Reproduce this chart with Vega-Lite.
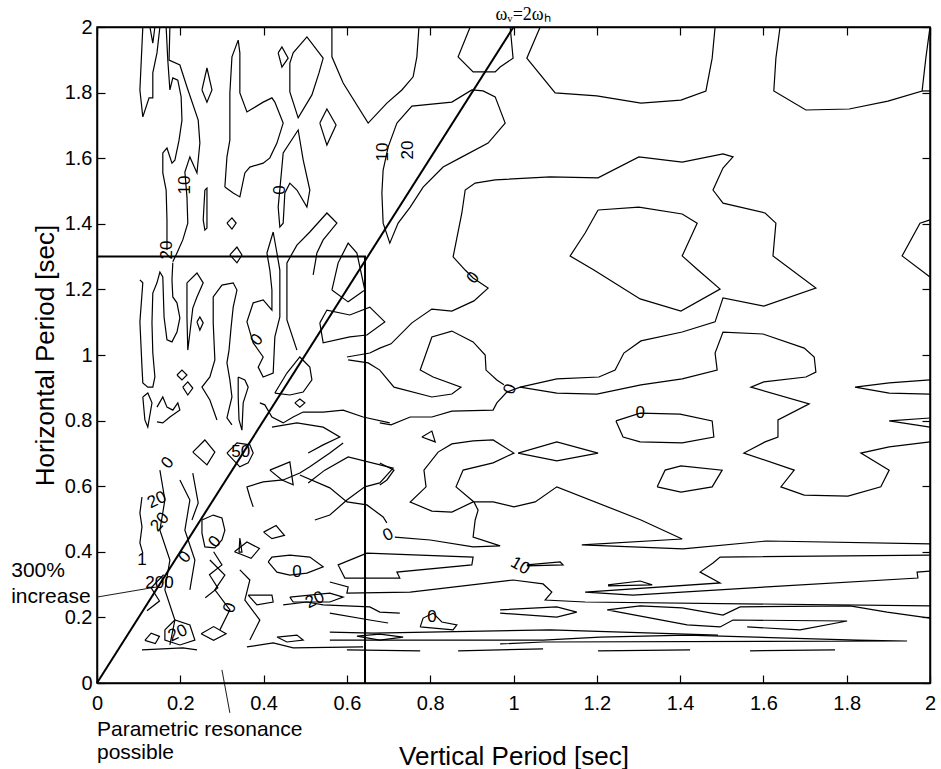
{
"$schema":"https://vega.github.io/schema/vega-lite/v6.json",
"width":833,"height":656,
"autosize":{"type":"none"},
"padding":{"left":97,"top":27,"right":11,"bottom":86},
"background":"white",
"config":{"view":{"stroke":"black","strokeWidth":1.5},"font":"Liberation Sans",
 "text":{"color":"black"},
 "axis":{"grid":false,"domainColor":"black","domainWidth":1.5,"tickColor":"black","tickWidth":1.2,"tickSize":-8,"labelColor":"black","titleColor":"black","labelFont":"Liberation Sans","titleFont":"Liberation Sans","labelFontSize":20,"titleFontSize":26,"titleFontWeight":"normal","labelFlush":false,"labelOverlap":false}},
"datasets":{
"ct":[
{"c":1,"x":1.064,"y":2},{"c":1,"x":1.032,"y":1.905},{"c":1,"x":1.1,"y":1.799},{"c":1,"x":1.2,"y":1.79},{"c":1,"x":1.306,"y":1.768},{"c":1,"x":1.402,"y":1.777},{"c":1,"x":1.462,"y":1.805},{"c":1,"x":1.477,"y":1.905},{"c":1,"x":1.484,"y":2},
{"c":2,"x":1.64,"y":2},{"c":2,"x":1.63,"y":1.905},{"c":2,"x":1.625,"y":1.805},{"c":2,"x":1.702,"y":1.747},{"c":2,"x":1.806,"y":1.75},{"c":2,"x":1.899,"y":1.774},{"c":2,"x":1.981,"y":1.805},{"c":2,"x":1.99,"y":1.905},{"c":2,"x":2,"y":2},
{"c":3,"x":1.981,"y":1.805},{"c":3,"x":2,"y":1.805},
{"c":4,"x":0.6,"y":0.994},{"c":4,"x":0.655,"y":1.006},{"c":4,"x":0.679,"y":1.021},{"c":4,"x":0.706,"y":1.034},{"c":4,"x":0.756,"y":1.098},{"c":4,"x":0.804,"y":1.14},{"c":4,"x":0.852,"y":1.134},{"c":4,"x":0.905,"y":1.165},{"c":4,"x":0.939,"y":1.204},{"c":4,"x":0.903,"y":1.235},{"c":4,"x":0.884,"y":1.259},{"c":4,"x":0.855,"y":1.299},{"c":4,"x":0.876,"y":1.433},{"c":4,"x":0.884,"y":1.503},{"c":4,"x":0.908,"y":1.524},{"c":4,"x":0.956,"y":1.534},{"c":4,"x":1.088,"y":1.543},{"c":4,"x":1.203,"y":1.54},{"c":4,"x":1.301,"y":1.604},{"c":4,"x":1.405,"y":1.588},{"c":4,"x":1.503,"y":1.613},{"c":4,"x":1.527,"y":1.604},{"c":4,"x":1.503,"y":1.57},{"c":4,"x":1.479,"y":1.503},{"c":4,"x":1.503,"y":1.463},{"c":4,"x":1.604,"y":1.433},{"c":4,"x":1.63,"y":1.402},{"c":4,"x":1.623,"y":1.302},{"c":4,"x":1.726,"y":1.204},{"c":4,"x":1.601,"y":1.149},{"c":4,"x":1.503,"y":1.174},{"c":4,"x":1.484,"y":1.101},{"c":4,"x":1.405,"y":1.07},{"c":4,"x":1.306,"y":1.043},{"c":4,"x":1.265,"y":1.006},{"c":4,"x":1.244,"y":0.954},{"c":4,"x":1.205,"y":0.933},{"c":4,"x":1.104,"y":0.927},{"c":4,"x":1.016,"y":0.902},
{"c":5,"x":0.679,"y":0.793},{"c":5,"x":0.706,"y":0.787},{"c":5,"x":0.752,"y":0.811},{"c":5,"x":0.804,"y":0.811},{"c":5,"x":0.852,"y":0.829},{"c":5,"x":0.951,"y":0.832},{"c":5,"x":0.96,"y":0.854},{"c":5,"x":0.984,"y":0.887},{"c":5,"x":1.016,"y":0.902},{"c":5,"x":1.104,"y":0.884},{"c":5,"x":1.2,"y":0.881},{"c":5,"x":1.306,"y":0.909},{"c":5,"x":1.405,"y":0.927},{"c":5,"x":1.489,"y":0.954},{"c":5,"x":1.484,"y":1.006},{"c":5,"x":1.503,"y":1.07},{"c":5,"x":1.599,"y":1.064},{"c":5,"x":1.698,"y":1.021},{"c":5,"x":1.722,"y":0.994},{"c":5,"x":1.726,"y":0.948},{"c":5,"x":1.702,"y":0.933},{"c":5,"x":1.601,"y":0.918},{"c":5,"x":1.57,"y":0.902},{"c":5,"x":1.71,"y":0.851},{"c":5,"x":1.635,"y":0.802},{"c":5,"x":1.635,"y":0.75},{"c":5,"x":1.604,"y":0.735},{"c":5,"x":1.553,"y":0.701},{"c":5,"x":1.674,"y":0.649},{"c":5,"x":1.642,"y":0.598},{"c":5,"x":1.698,"y":0.573},{"c":5,"x":1.803,"y":0.57},{"c":5,"x":1.882,"y":0.598},{"c":5,"x":1.902,"y":0.649},{"c":5,"x":1.834,"y":0.701},{"c":5,"x":1.902,"y":0.72},{"c":5,"x":2,"y":0.735},
{"c":6,"x":2,"y":1.412},{"c":6,"x":1.976,"y":1.402},{"c":6,"x":1.933,"y":1.302},{"c":6,"x":2,"y":1.238},
{"c":7,"x":1.203,"y":1.442},{"c":7,"x":1.301,"y":1.451},{"c":7,"x":1.405,"y":1.43},{"c":7,"x":1.441,"y":1.402},{"c":7,"x":1.405,"y":1.302},{"c":7,"x":1.443,"y":1.259},{"c":7,"x":1.496,"y":1.201},{"c":7,"x":1.402,"y":1.134},{"c":7,"x":1.304,"y":1.171},{"c":7,"x":1.193,"y":1.259},{"c":7,"x":1.136,"y":1.302},{"c":7,"x":1.172,"y":1.372},{"c":7,"x":1.203,"y":1.442},
{"c":8,"x":2,"y":0.881},{"c":8,"x":1.902,"y":0.884},{"c":8,"x":1.82,"y":0.902},{"c":8,"x":1.902,"y":0.915},{"c":8,"x":2,"y":0.924},
{"c":9,"x":2,"y":0.78},{"c":9,"x":1.902,"y":0.799},{"c":9,"x":2,"y":0.808},
{"c":10,"x":1.246,"y":0.799},{"c":10,"x":1.304,"y":0.823},{"c":10,"x":1.4,"y":0.82},{"c":10,"x":1.477,"y":0.799},{"c":10,"x":1.481,"y":0.75},{"c":10,"x":1.405,"y":0.732},{"c":10,"x":1.304,"y":0.735},{"c":10,"x":1.263,"y":0.75},{"c":10,"x":1.246,"y":0.799},
{"c":11,"x":1.345,"y":0.598},{"c":11,"x":1.364,"y":0.649},{"c":11,"x":1.402,"y":0.662},{"c":11,"x":1.501,"y":0.649},{"c":11,"x":1.477,"y":0.598},{"c":11,"x":1.402,"y":0.582},{"c":11,"x":1.345,"y":0.598},
{"c":12,"x":1.011,"y":0.701},{"c":12,"x":1.104,"y":0.735},{"c":12,"x":1.203,"y":0.701},{"c":12,"x":1.104,"y":0.677},{"c":12,"x":1.011,"y":0.701},
{"c":13,"x":0.78,"y":0.75},{"c":13,"x":0.804,"y":0.768},{"c":13,"x":0.812,"y":0.735},{"c":13,"x":0.78,"y":0.75},
{"c":14,"x":0.603,"y":0.985},{"c":14,"x":0.651,"y":0.976},{"c":14,"x":0.679,"y":0.954},{"c":14,"x":0.713,"y":0.902},{"c":14,"x":0.804,"y":0.872},{"c":14,"x":0.852,"y":0.881},{"c":14,"x":0.874,"y":0.902},{"c":14,"x":0.807,"y":0.933},{"c":14,"x":0.776,"y":0.954},{"c":14,"x":0.804,"y":1.055},{"c":14,"x":0.852,"y":1.073},{"c":14,"x":0.903,"y":1.04},{"c":14,"x":0.932,"y":1.0},{"c":14,"x":0.934,"y":0.954},{"c":14,"x":0.96,"y":0.924},{"c":14,"x":0.977,"y":0.909},
{"c":15,"x":0.679,"y":0.671},{"c":15,"x":0.713,"y":0.649},{"c":15,"x":0.696,"y":0.619},{"c":15,"x":0.679,"y":0.604},
{"c":16,"x":2,"y":0.424},{"c":16,"x":1.609,"y":0.433},{"c":16,"x":1.407,"y":0.409},{"c":16,"x":1.164,"y":0.421},{"c":16,"x":1.405,"y":0.439},{"c":16,"x":1.306,"y":0.497},{"c":16,"x":1.104,"y":0.598},{"c":16,"x":1.052,"y":0.552},{"c":16,"x":1.001,"y":0.537},{"c":16,"x":0.951,"y":0.552},{"c":16,"x":0.903,"y":0.552},{"c":16,"x":0.852,"y":0.521},{"c":16,"x":0.804,"y":0.524},{"c":16,"x":0.752,"y":0.552},{"c":16,"x":0.79,"y":0.598},{"c":16,"x":0.785,"y":0.649},{"c":16,"x":0.819,"y":0.704},{"c":16,"x":0.852,"y":0.729},{"c":16,"x":0.903,"y":0.738},{"c":16,"x":0.951,"y":0.741},{"c":16,"x":1.001,"y":0.701},{"c":16,"x":0.951,"y":0.671},{"c":16,"x":0.879,"y":0.649},{"c":16,"x":0.862,"y":0.598},{"c":16,"x":0.905,"y":0.552},{"c":16,"x":0.915,"y":0.527},{"c":16,"x":0.908,"y":0.497},{"c":16,"x":0.903,"y":0.445},{"c":16,"x":0.968,"y":0.418},{"c":16,"x":0.903,"y":0.415},{"c":16,"x":0.8,"y":0.436},{"c":16,"x":0.715,"y":0.445},
{"c":17,"x":0.487,"y":0.634},{"c":17,"x":0.559,"y":0.595},{"c":17,"x":0.6,"y":0.552},{"c":17,"x":0.648,"y":0.543},{"c":17,"x":0.687,"y":0.506},{"c":17,"x":0.696,"y":0.488},
{"c":18,"x":0.507,"y":0.61},{"c":18,"x":0.547,"y":0.649},{"c":18,"x":0.603,"y":0.689},{"c":18,"x":0.711,"y":0.655},{"c":18,"x":0.679,"y":0.61},{"c":18,"x":0.643,"y":0.598},{"c":18,"x":0.6,"y":0.558},{"c":18,"x":0.559,"y":0.512},{"c":18,"x":0.523,"y":0.497},
{"c":19,"x":0.648,"y":0.396},{"c":19,"x":0.903,"y":0.384},{"c":19,"x":0.9,"y":0.36},{"c":19,"x":0.72,"y":0.338},{"c":19,"x":0.727,"y":0.32},{"c":19,"x":0.595,"y":0.32},{"c":19,"x":0.579,"y":0.36},{"c":19,"x":0.648,"y":0.396},
{"c":20,"x":0.559,"y":0.308},{"c":20,"x":0.603,"y":0.293},{"c":20,"x":0.6,"y":0.274},{"c":20,"x":0.752,"y":0.277},{"c":20,"x":0.999,"y":0.314},{"c":20,"x":1.071,"y":0.302},{"c":20,"x":1.092,"y":0.277},{"c":20,"x":1.076,"y":0.253},{"c":20,"x":1.172,"y":0.247},{"c":20,"x":2,"y":0.235},
{"c":21,"x":2,"y":0.39},{"c":21,"x":1.496,"y":0.384},{"c":21,"x":1.479,"y":0.366},{"c":21,"x":1.448,"y":0.338},{"c":21,"x":1.496,"y":0.305},{"c":21,"x":1.172,"y":0.277},{"c":21,"x":1.287,"y":0.268},{"c":21,"x":1.609,"y":0.293},{"c":21,"x":1.971,"y":0.32},{"c":21,"x":1.969,"y":0.338},{"c":21,"x":2,"y":0.341},
{"c":22,"x":2,"y":0.198},{"c":22,"x":1.897,"y":0.216},{"c":22,"x":1.808,"y":0.235},{"c":22,"x":1.544,"y":0.232},{"c":22,"x":1.503,"y":0.207},{"c":22,"x":1.405,"y":0.229},{"c":22,"x":1.304,"y":0.235},{"c":22,"x":1.225,"y":0.223},{"c":22,"x":1.417,"y":0.177},{"c":22,"x":1.496,"y":0.171},{"c":22,"x":1.527,"y":0.192},{"c":22,"x":1.801,"y":0.189},{"c":22,"x":1.688,"y":0.162},{"c":22,"x":1.561,"y":0.171},
{"c":23,"x":0.968,"y":0.223},{"c":23,"x":1.104,"y":0.232},{"c":23,"x":1.152,"y":0.216},{"c":23,"x":1.104,"y":0.201},{"c":23,"x":0.968,"y":0.213},
{"c":24,"x":0.559,"y":0.155},{"c":24,"x":0.663,"y":0.152},{"c":24,"x":1.088,"y":0.162},{"c":24,"x":1.491,"y":0.146},
{"c":25,"x":0.968,"y":0.119},{"c":25,"x":1.071,"y":0.125},{"c":25,"x":1.945,"y":0.128},{"c":25,"x":1.825,"y":0.131},{"c":25,"x":1.417,"y":0.146},{"c":25,"x":1.208,"y":0.14},{"c":25,"x":1.071,"y":0.131},{"c":25,"x":0.759,"y":0.131},{"c":25,"x":0.559,"y":0.131},
{"c":26,"x":0.6,"y":0.101},{"c":26,"x":0.776,"y":0.098},
{"c":27,"x":0.867,"y":0.098},{"c":27,"x":1.071,"y":0.104},
{"c":28,"x":1.203,"y":0.098},{"c":28,"x":1.424,"y":0.101},
{"c":29,"x":1.568,"y":0.098},{"c":29,"x":1.772,"y":0.101},
{"c":30,"x":1.032,"y":0.36},{"c":30,"x":1.112,"y":0.369},{"c":30,"x":1.119,"y":0.36},{"c":30,"x":1.032,"y":0.357},
{"c":31,"x":1.227,"y":0.299},{"c":31,"x":1.304,"y":0.311},{"c":31,"x":1.333,"y":0.299},{"c":31,"x":1.227,"y":0.296},
{"c":32,"x":0.559,"y":0.213},{"c":32,"x":0.655,"y":0.192},{"c":32,"x":0.699,"y":0.183},
{"c":33,"x":0.776,"y":0.171},{"c":33,"x":0.783,"y":0.198},{"c":33,"x":0.807,"y":0.213},{"c":33,"x":0.828,"y":0.186},{"c":33,"x":0.864,"y":0.177},{"c":33,"x":0.855,"y":0.162},{"c":33,"x":0.776,"y":0.171},
{"c":34,"x":0.624,"y":0.143},{"c":34,"x":0.679,"y":0.149},{"c":34,"x":0.735,"y":0.14},{"c":34,"x":0.679,"y":0.131},{"c":34,"x":0.624,"y":0.143},
{"c":35,"x":0.252,"y":0.497},{"c":35,"x":0.279,"y":0.512},{"c":35,"x":0.3,"y":0.503},{"c":35,"x":0.307,"y":0.466},{"c":35,"x":0.3,"y":0.436},{"c":35,"x":0.283,"y":0.412},{"c":35,"x":0.259,"y":0.415},{"c":35,"x":0.252,"y":0.457},{"c":35,"x":0.252,"y":0.497},
{"c":36,"x":0.411,"y":0.369},{"c":36,"x":0.42,"y":0.384},{"c":36,"x":0.463,"y":0.39},{"c":36,"x":0.511,"y":0.384},{"c":36,"x":0.543,"y":0.354},{"c":36,"x":0.504,"y":0.335},{"c":36,"x":0.463,"y":0.329},{"c":36,"x":0.432,"y":0.338},{"c":36,"x":0.411,"y":0.369},
{"c":37,"x":0.463,"y":0.262},{"c":37,"x":0.559,"y":0.274},{"c":37,"x":0.591,"y":0.262},{"c":37,"x":0.559,"y":0.247},{"c":37,"x":0.471,"y":0.247},{"c":37,"x":0.463,"y":0.262},
{"c":38,"x":0.363,"y":0.268},{"c":38,"x":0.42,"y":0.268},{"c":38,"x":0.423,"y":0.247},{"c":38,"x":0.384,"y":0.238},{"c":38,"x":0.363,"y":0.268},
{"c":39,"x":0.447,"y":0.238},{"c":39,"x":0.504,"y":0.247},{"c":39,"x":0.543,"y":0.238},{"c":39,"x":0.655,"y":0.232},{"c":39,"x":0.679,"y":0.216},{"c":39,"x":0.727,"y":0.213},
{"c":40,"x":0.432,"y":0.14},{"c":40,"x":0.48,"y":0.146},{"c":40,"x":0.495,"y":0.131},{"c":40,"x":0.456,"y":0.125},{"c":40,"x":0.432,"y":0.14},
{"c":41,"x":0.36,"y":0.11},{"c":41,"x":0.423,"y":0.122},{"c":41,"x":0.471,"y":0.107},{"c":41,"x":0.639,"y":0.11},
{"c":42,"x":0.108,"y":0.101},{"c":42,"x":0.206,"y":0.107},{"c":42,"x":0.24,"y":0.101},
{"c":43,"x":0.415,"y":0.649},{"c":43,"x":0.463,"y":0.674},{"c":43,"x":0.471,"y":0.604},{"c":43,"x":0.444,"y":0.619},{"c":43,"x":0.415,"y":0.649},
{"c":44,"x":0.312,"y":0.701},{"c":44,"x":0.336,"y":0.732},{"c":44,"x":0.367,"y":0.726},{"c":44,"x":0.375,"y":0.701},{"c":44,"x":0.363,"y":0.671},{"c":44,"x":0.343,"y":0.659},{"c":44,"x":0.312,"y":0.701},
{"c":45,"x":0.23,"y":0.704},{"c":45,"x":0.259,"y":0.741},{"c":45,"x":0.283,"y":0.704},{"c":45,"x":0.264,"y":0.665},{"c":45,"x":0.23,"y":0.704},
{"c":46,"x":0.343,"y":0.442},{"c":46,"x":0.348,"y":0.399},{"c":46,"x":0.341,"y":0.399},{"c":46,"x":0.343,"y":0.442},
{"c":47,"x":0.108,"y":0.567},{"c":47,"x":0.103,"y":0.518},{"c":47,"x":0.108,"y":0.476},{"c":47,"x":0.103,"y":0.427},{"c":47,"x":0.11,"y":0.396},
{"c":48,"x":0.144,"y":0.841},{"c":48,"x":0.158,"y":0.872},{"c":48,"x":0.168,"y":0.841},{"c":48,"x":0.182,"y":0.832},{"c":48,"x":0.194,"y":0.854},{"c":48,"x":0.199,"y":0.832},{"c":48,"x":0.175,"y":0.811},{"c":48,"x":0.158,"y":0.793},{"c":48,"x":0.144,"y":0.796},
{"c":49,"x":0.11,"y":0.872},{"c":49,"x":0.122,"y":0.884},{"c":49,"x":0.132,"y":0.854},{"c":49,"x":0.122,"y":0.78},{"c":49,"x":0.115,"y":0.802},{"c":49,"x":0.11,"y":0.872},
{"c":50,"x":0.151,"y":0.649},{"c":50,"x":0.163,"y":0.558},{"c":50,"x":0.151,"y":0.466},{"c":50,"x":0.175,"y":0.375},{"c":50,"x":0.163,"y":0.284},{"c":50,"x":0.187,"y":0.192},{"c":50,"x":0.175,"y":0.116},
{"c":51,"x":0.199,"y":0.619},{"c":51,"x":0.223,"y":0.558},{"c":51,"x":0.211,"y":0.466},{"c":51,"x":0.235,"y":0.375},{"c":51,"x":0.223,"y":0.284},
{"c":52,"x":0.271,"y":0.375},{"c":52,"x":0.307,"y":0.329},{"c":52,"x":0.283,"y":0.284},{"c":52,"x":0.319,"y":0.223},{"c":52,"x":0.295,"y":0.162},
{"c":53,"x":0.343,"y":0.345},{"c":53,"x":0.367,"y":0.314},{"c":53,"x":0.355,"y":0.253},{"c":53,"x":0.391,"y":0.192},{"c":53,"x":0.367,"y":0.131},
{"c":54,"x":0.163,"y":0.162},{"c":54,"x":0.187,"y":0.192},{"c":54,"x":0.223,"y":0.177},{"c":54,"x":0.235,"y":0.131},{"c":54,"x":0.199,"y":0.116},{"c":54,"x":0.163,"y":0.131},{"c":54,"x":0.163,"y":0.162},
{"c":55,"x":0.42,"y":0.78},{"c":55,"x":0.48,"y":0.793},{"c":55,"x":0.543,"y":0.78},{"c":55,"x":0.583,"y":0.75},{"c":55,"x":0.543,"y":0.726},{"c":55,"x":0.507,"y":0.701},
{"c":56,"x":0.375,"y":0.537},{"c":56,"x":0.367,"y":0.567},{"c":56,"x":0.36,"y":0.598},{"c":56,"x":0.399,"y":0.613},{"c":56,"x":0.447,"y":0.619},{"c":56,"x":0.487,"y":0.64},{"c":56,"x":0.511,"y":0.659},{"c":56,"x":0.559,"y":0.701},{"c":56,"x":0.591,"y":0.732},
{"c":57,"x":0.23,"y":0.64},{"c":57,"x":0.243,"y":0.549},{"c":57,"x":0.228,"y":0.497},
{"c":58,"x":0.103,"y":1.229},{"c":58,"x":0.11,"y":1.22},{"c":58,"x":0.103,"y":1.101},{"c":58,"x":0.108,"y":0.963},{"c":58,"x":0.11,"y":0.915},{"c":58,"x":0.122,"y":0.902},{"c":58,"x":0.134,"y":0.902},{"c":58,"x":0.139,"y":0.933},{"c":58,"x":0.134,"y":1.006},{"c":58,"x":0.132,"y":1.098},{"c":58,"x":0.134,"y":1.189},{"c":58,"x":0.144,"y":1.22},{"c":58,"x":0.151,"y":1.253},{"c":58,"x":0.158,"y":1.238},{"c":58,"x":0.161,"y":1.116},{"c":58,"x":0.168,"y":1.046},{"c":58,"x":0.18,"y":1.04},{"c":58,"x":0.192,"y":1.07},{"c":58,"x":0.199,"y":1.113},{"c":58,"x":0.192,"y":1.159},{"c":58,"x":0.182,"y":1.177},{"c":58,"x":0.18,"y":1.229},{"c":58,"x":0.182,"y":1.281},
{"c":59,"x":0.216,"y":1.22},{"c":59,"x":0.24,"y":1.25},{"c":59,"x":0.255,"y":1.22},{"c":59,"x":0.24,"y":1.177},{"c":59,"x":0.23,"y":1.143},{"c":59,"x":0.223,"y":1.067},{"c":59,"x":0.218,"y":1.015},{"c":59,"x":0.216,"y":1.116},{"c":59,"x":0.216,"y":1.22},
{"c":60,"x":0.24,"y":1.101},{"c":60,"x":0.247,"y":1.116},{"c":60,"x":0.255,"y":1.098},{"c":60,"x":0.247,"y":1.076},{"c":60,"x":0.24,"y":1.101},
{"c":61,"x":0.192,"y":0.939},{"c":61,"x":0.204,"y":0.954},{"c":61,"x":0.216,"y":0.939},{"c":61,"x":0.204,"y":0.924},{"c":61,"x":0.192,"y":0.939},
{"c":62,"x":0.206,"y":0.902},{"c":62,"x":0.218,"y":0.918},{"c":62,"x":0.23,"y":0.899},{"c":62,"x":0.218,"y":0.878},{"c":62,"x":0.206,"y":0.902},
{"c":63,"x":0.288,"y":0.802},{"c":63,"x":0.271,"y":0.863},{"c":63,"x":0.252,"y":0.902},{"c":63,"x":0.271,"y":0.933},{"c":63,"x":0.283,"y":0.985},{"c":63,"x":0.279,"y":1.098},{"c":63,"x":0.279,"y":1.177},{"c":63,"x":0.3,"y":1.213},{"c":63,"x":0.327,"y":1.22},{"c":63,"x":0.336,"y":1.198},{"c":63,"x":0.327,"y":1.146},{"c":63,"x":0.322,"y":1.085},{"c":63,"x":0.317,"y":1.015},{"c":63,"x":0.312,"y":0.976},{"c":63,"x":0.319,"y":0.924},{"c":63,"x":0.324,"y":0.872},{"c":63,"x":0.312,"y":0.808},{"c":63,"x":0.324,"y":0.787},
{"c":64,"x":0.339,"y":0.933},{"c":64,"x":0.355,"y":0.924},{"c":64,"x":0.363,"y":0.902},{"c":64,"x":0.351,"y":0.854},{"c":64,"x":0.348,"y":0.771},{"c":64,"x":0.341,"y":0.802},{"c":64,"x":0.339,"y":0.872},{"c":64,"x":0.339,"y":0.933},
{"c":65,"x":0.423,"y":1.375},{"c":65,"x":0.408,"y":1.311},{"c":65,"x":0.415,"y":1.259},{"c":65,"x":0.42,"y":1.198},{"c":65,"x":0.42,"y":1.137},{"c":65,"x":0.399,"y":1.168},{"c":65,"x":0.375,"y":1.159},{"c":65,"x":0.36,"y":1.101},{"c":65,"x":0.375,"y":1.037},{"c":65,"x":0.399,"y":0.994},{"c":65,"x":0.387,"y":0.963},{"c":65,"x":0.399,"y":0.933},{"c":65,"x":0.423,"y":0.945},{"c":65,"x":0.427,"y":1.055},{"c":65,"x":0.439,"y":1.116},{"c":65,"x":0.439,"y":1.259},{"c":65,"x":0.432,"y":1.311},{"c":65,"x":0.423,"y":1.375},
{"c":66,"x":0.48,"y":1.015},{"c":66,"x":0.456,"y":1.107},{"c":66,"x":0.456,"y":1.281},{"c":66,"x":0.48,"y":1.335},{"c":66,"x":0.511,"y":1.375},{"c":66,"x":0.552,"y":1.433},{"c":66,"x":0.576,"y":1.402},{"c":66,"x":0.543,"y":1.351},{"c":66,"x":0.528,"y":1.311},{"c":66,"x":0.519,"y":1.244},
{"c":67,"x":0.564,"y":1.198},{"c":67,"x":0.579,"y":1.281},{"c":67,"x":0.603,"y":1.341},{"c":67,"x":0.624,"y":1.311},{"c":67,"x":0.643,"y":1.198},{"c":67,"x":0.603,"y":1.162},{"c":67,"x":0.564,"y":1.198},
{"c":68,"x":0.535,"y":1.098},{"c":68,"x":0.552,"y":1.137},{"c":68,"x":0.607,"y":1.122},{"c":68,"x":0.655,"y":1.146},{"c":68,"x":0.691,"y":1.101},{"c":68,"x":0.648,"y":1.061},{"c":68,"x":0.607,"y":1.055},{"c":68,"x":0.543,"y":1.037},{"c":68,"x":0.535,"y":1.098},
{"c":69,"x":0.427,"y":0.884},{"c":69,"x":0.456,"y":0.945},{"c":69,"x":0.487,"y":0.994},{"c":69,"x":0.511,"y":0.963},{"c":69,"x":0.516,"y":0.924},{"c":69,"x":0.495,"y":0.887},{"c":69,"x":0.463,"y":0.878},{"c":69,"x":0.427,"y":0.884},
{"c":70,"x":0.475,"y":0.854},{"c":70,"x":0.487,"y":0.866},{"c":70,"x":0.499,"y":0.854},{"c":70,"x":0.487,"y":0.841},{"c":70,"x":0.475,"y":0.854},
{"c":71,"x":0.319,"y":1.305},{"c":71,"x":0.336,"y":1.329},{"c":71,"x":0.348,"y":1.305},{"c":71,"x":0.336,"y":1.281},{"c":71,"x":0.319,"y":1.305},
{"c":72,"x":0.391,"y":0.854},{"c":72,"x":0.403,"y":0.848},{"c":72,"x":0.42,"y":0.811},{"c":72,"x":0.447,"y":0.793},{"c":72,"x":0.471,"y":0.811},{"c":72,"x":0.495,"y":0.826},{"c":72,"x":0.543,"y":0.826},{"c":72,"x":0.591,"y":0.832},{"c":72,"x":0.639,"y":0.811},{"c":72,"x":0.703,"y":0.793},
{"c":73,"x":0.11,"y":2},{"c":73,"x":0.103,"y":1.808},{"c":73,"x":0.11,"y":1.726},{"c":73,"x":0.125,"y":1.784},{"c":73,"x":0.134,"y":1.784},{"c":73,"x":0.134,"y":1.86},{"c":73,"x":0.144,"y":1.921},{"c":73,"x":0.151,"y":2},
{"c":74,"x":0.127,"y":2},{"c":74,"x":0.134,"y":1.951},{"c":74,"x":0.139,"y":2},
{"c":75,"x":0.166,"y":2},{"c":75,"x":0.17,"y":1.899},{"c":75,"x":0.175,"y":1.808},{"c":75,"x":0.182,"y":1.845},{"c":75,"x":0.194,"y":1.838},{"c":75,"x":0.202,"y":1.787},{"c":75,"x":0.204,"y":1.716},{"c":75,"x":0.197,"y":1.655},{"c":75,"x":0.187,"y":1.594},{"c":75,"x":0.18,"y":1.585},{"c":75,"x":0.168,"y":1.631},{"c":75,"x":0.158,"y":1.616},{"c":75,"x":0.158,"y":1.555},{"c":75,"x":0.166,"y":1.503},{"c":75,"x":0.168,"y":1.412},{"c":75,"x":0.168,"y":1.32},
{"c":76,"x":0.175,"y":2},{"c":76,"x":0.173,"y":1.899},{"c":76,"x":0.199,"y":1.884},{"c":76,"x":0.216,"y":1.817},{"c":76,"x":0.243,"y":1.716},{"c":76,"x":0.247,"y":1.646},{"c":76,"x":0.24,"y":1.555},{"c":76,"x":0.223,"y":1.604},{"c":76,"x":0.211,"y":1.558},{"c":76,"x":0.216,"y":1.482},{"c":76,"x":0.218,"y":1.402},{"c":76,"x":0.206,"y":1.351},{"c":76,"x":0.192,"y":1.311},{"c":76,"x":0.182,"y":1.284},
{"c":77,"x":0.252,"y":1.808},{"c":77,"x":0.264,"y":1.875},{"c":77,"x":0.276,"y":1.808},{"c":77,"x":0.264,"y":1.771},{"c":77,"x":0.252,"y":1.808},
{"c":78,"x":0.307,"y":1.512},{"c":78,"x":0.312,"y":1.604},{"c":78,"x":0.319,"y":1.655},{"c":78,"x":0.319,"y":1.799},{"c":78,"x":0.324,"y":1.909},{"c":78,"x":0.339,"y":1.96},{"c":78,"x":0.343,"y":1.921},{"c":78,"x":0.343,"y":1.799},{"c":78,"x":0.36,"y":1.741},{"c":78,"x":0.399,"y":1.771},{"c":78,"x":0.42,"y":1.784},{"c":78,"x":0.427,"y":1.771},{"c":78,"x":0.447,"y":1.707},{"c":78,"x":0.432,"y":1.646},{"c":78,"x":0.415,"y":1.601},{"c":78,"x":0.399,"y":1.585},{"c":78,"x":0.367,"y":1.573},{"c":78,"x":0.355,"y":1.555},{"c":78,"x":0.343,"y":1.482},{"c":78,"x":0.327,"y":1.494},{"c":78,"x":0.307,"y":1.512},
{"c":79,"x":0.259,"y":1.503},{"c":79,"x":0.264,"y":1.509},{"c":79,"x":0.264,"y":1.387},{"c":79,"x":0.259,"y":1.381},{"c":79,"x":0.255,"y":1.412},{"c":79,"x":0.259,"y":1.503},
{"c":80,"x":0.312,"y":1.402},{"c":80,"x":0.324,"y":1.418},{"c":80,"x":0.334,"y":1.402},{"c":80,"x":0.324,"y":1.384},{"c":80,"x":0.312,"y":1.402},
{"c":81,"x":0.435,"y":1.921},{"c":81,"x":0.444,"y":1.939},{"c":81,"x":0.459,"y":1.905},{"c":81,"x":0.444,"y":1.878},{"c":81,"x":0.435,"y":1.921},
{"c":82,"x":0.463,"y":1.89},{"c":82,"x":0.471,"y":1.921},{"c":82,"x":0.504,"y":1.97},{"c":82,"x":0.543,"y":1.905},{"c":82,"x":0.533,"y":1.86},{"c":82,"x":0.516,"y":1.793},{"c":82,"x":0.483,"y":1.723},{"c":82,"x":0.463,"y":1.802},{"c":82,"x":0.463,"y":1.89},
{"c":83,"x":0.444,"y":1.573},{"c":83,"x":0.447,"y":1.616},{"c":83,"x":0.483,"y":1.686},{"c":83,"x":0.495,"y":1.595},{"c":83,"x":0.511,"y":1.503},{"c":83,"x":0.504,"y":1.451},{"c":83,"x":0.48,"y":1.503},{"c":83,"x":0.463,"y":1.524},{"c":83,"x":0.451,"y":1.494},{"c":83,"x":0.447,"y":1.402},{"c":83,"x":0.439,"y":1.39},{"c":83,"x":0.435,"y":1.451},{"c":83,"x":0.444,"y":1.573},
{"c":84,"x":0.535,"y":1.707},{"c":84,"x":0.552,"y":1.75},{"c":84,"x":0.574,"y":1.701},{"c":84,"x":0.552,"y":1.64},{"c":84,"x":0.535,"y":1.707},
{"c":85,"x":0.564,"y":2},{"c":85,"x":0.564,"y":1.909},{"c":85,"x":0.591,"y":1.829},{"c":85,"x":0.651,"y":1.707},{"c":85,"x":0.696,"y":1.768},{"c":85,"x":0.732,"y":1.808},{"c":85,"x":0.759,"y":1.848},{"c":85,"x":0.768,"y":1.909},{"c":85,"x":0.773,"y":2},
{"c":86,"x":0.896,"y":2},{"c":86,"x":0.867,"y":1.909},{"c":86,"x":0.903,"y":1.863},{"c":86,"x":0.956,"y":1.863},{"c":86,"x":0.968,"y":1.878},{"c":86,"x":0.999,"y":1.905},{"c":86,"x":0.992,"y":2},
{"c":87,"x":0.72,"y":1.707},{"c":87,"x":0.756,"y":1.759},{"c":87,"x":0.852,"y":1.771},{"c":87,"x":0.9,"y":1.808},{"c":87,"x":0.927,"y":1.805},{"c":87,"x":0.956,"y":1.787},{"c":87,"x":0.98,"y":1.707},{"c":87,"x":0.939,"y":1.646},{"c":87,"x":0.872,"y":1.601},{"c":87,"x":0.831,"y":1.573},{"c":87,"x":0.783,"y":1.512},{"c":87,"x":0.752,"y":1.451},{"c":87,"x":0.723,"y":1.402},{"c":87,"x":0.703,"y":1.341},{"c":87,"x":0.687,"y":1.402},{"c":87,"x":0.684,"y":1.494},{"c":87,"x":0.687,"y":1.564},{"c":87,"x":0.699,"y":1.634},{"c":87,"x":0.72,"y":1.707},
{"c":88,"x":0.115,"y":0.13},{"c":88,"x":0.13,"y":0.152},{"c":88,"x":0.15,"y":0.142},{"c":88,"x":0.14,"y":0.12},{"c":88,"x":0.115,"y":0.13},
{"c":89,"x":0.25,"y":0.15},{"c":89,"x":0.28,"y":0.172},{"c":89,"x":0.31,"y":0.15},{"c":89,"x":0.28,"y":0.13},{"c":89,"x":0.25,"y":0.15},
{"c":90,"x":0.12,"y":0.22},{"c":90,"x":0.15,"y":0.25},{"c":90,"x":0.13,"y":0.29},{"c":90,"x":0.16,"y":0.33},
{"c":91,"x":0.26,"y":0.26},{"c":91,"x":0.29,"y":0.29},{"c":91,"x":0.27,"y":0.33},{"c":91,"x":0.3,"y":0.36},{"c":91,"x":0.28,"y":0.4},
{"c":92,"x":0.33,"y":0.4},{"c":92,"x":0.36,"y":0.43},{"c":92,"x":0.39,"y":0.41},{"c":92,"x":0.37,"y":0.38},{"c":92,"x":0.33,"y":0.4},
{"c":93,"x":0.4,"y":0.46},{"c":93,"x":0.43,"y":0.48},{"c":93,"x":0.45,"y":0.45},{"c":93,"x":0.42,"y":0.44},{"c":93,"x":0.4,"y":0.46}
],
"gd":[
{"g":"d","x":0,"y":0},{"g":"d","x":1,"y":2},
{"g":"b","x":0,"y":1.3},{"g":"b","x":0.6435,"y":1.3},{"g":"b","x":0.6435,"y":0}
],
"ptr":[
{"g":"p1","x":0,"y":0.262},{"g":"p1","x":0.144,"y":0.293},
{"g":"p2","x":0.3,"y":0.04},{"g":"p2","x":0.319,"y":-0.091}
],
"lab0":[
{"x":1.304,"y":0.823,"t":"0"},{"x":0.804,"y":0.201,"t":"0"},{"x":0.48,"y":0.338,"t":"0"},{"x":0.345,"y":0.704,"t":"50"},{"x":0.15,"y":0.305,"t":"200"},{"x":0.108,"y":0.375,"t":"1"}
],
"lab270":[
{"x":0.211,"y":1.518,"t":"10"},{"x":0.168,"y":1.32,"t":"20"},{"x":0.439,"y":1.503,"t":"0"},{"x":0.687,"y":1.619,"t":"10"},{"x":0.747,"y":1.625,"t":"20"}
],
"lab310":[
{"x":0.903,"y":1.235,"t":"0"},{"x":0.384,"y":1.046,"t":"0"},{"x":0.283,"y":0.43,"t":"0"},{"x":0.17,"y":0.671,"t":"0"},{"x":0.151,"y":0.491,"t":"20"},{"x":0.211,"y":0.384,"t":"0"}
],
"lab290":[
{"x":0.992,"y":0.896,"t":"0"},{"x":0.319,"y":0.229,"t":"0"}
],
"lab335":[
{"x":0.523,"y":0.253,"t":"20"},{"x":0.194,"y":0.152,"t":"20"},{"x":0.144,"y":0.558,"t":"20"},{"x":0.699,"y":0.451,"t":"0"}
],
"lab30":[
{"x":1.016,"y":0.357,"t":"10"}
],
"notes":[
{"x":-0.206,"y":0.323,"t":"300%"},{"x":-0.206,"y":0.244,"t":"increase"},{"x":0.0,"y":-0.162,"t":"Parametric resonance"},{"x":0.0,"y":-0.232,"t":"possible"}
],
"top":[
{"x":1.023,"y":2.021,"t":"ωᵥ=2ωₕ"}
]
},
"layer":[
{"data":{"name":"ct"},
 "mark":{"type":"line","stroke":"black","strokeWidth":1.2},
 "encoding":{
  "x":{"field":"x","type":"quantitative","scale":{"domain":[0,2],"nice":false,"zero":false},
   "axis":{"orient":"bottom","values":[0,0.2,0.4,0.6,0.8,1,1.2,1.4,1.6,1.8,2],"format":"~g","labelPadding":18,"title":"Vertical Period [sec]","titlePadding":30}},
  "y":{"field":"y","type":"quantitative","scale":{"domain":[0,2],"nice":false,"zero":false},
   "axis":{"orient":"left","values":[0,0.2,0.4,0.6,0.8,1,1.2,1.4,1.6,1.8,2],"format":"~g","labelPadding":13,"title":"Horizontal Period [sec]","titlePadding":6}},
  "detail":{"field":"c","type":"nominal"},
  "order":{"value":null}}},
{"data":{"name":"gd"},
 "mark":{"type":"line","stroke":"black","strokeWidth":2},
 "encoding":{
  "x":{"field":"x","type":"quantitative","scale":{"domain":[0,2],"nice":false,"zero":false},
   "axis":{"orient":"top","values":[0,0.2,0.4,0.6,0.8,1,1.2,1.4,1.6,1.8,2],"labels":false,"title":null}},
  "y":{"field":"y","type":"quantitative","scale":{"domain":[0,2],"nice":false,"zero":false},
   "axis":{"orient":"right","values":[0,0.2,0.4,0.6,0.8,1,1.2,1.4,1.6,1.8,2],"labels":false,"title":null}},
  "detail":{"field":"g","type":"nominal"},
  "order":{"value":null}}},
{"data":{"name":"ptr"},
 "mark":{"type":"line","stroke":"black","strokeWidth":0.9},
 "encoding":{"x":{"field":"x","type":"quantitative","axis":null},"y":{"field":"y","type":"quantitative","axis":null},"detail":{"field":"g","type":"nominal"},"order":{"value":null}}},
{"data":{"name":"lab0"},"mark":{"type":"text","fontSize":17,"align":"center","baseline":"middle","angle":0,"fill":"black"},
 "encoding":{"x":{"field":"x","type":"quantitative","axis":null},"y":{"field":"y","type":"quantitative","axis":null},"text":{"field":"t"}}},
{"data":{"name":"lab270"},"mark":{"type":"text","fontSize":17,"align":"center","baseline":"middle","angle":270,"fill":"black"},
 "encoding":{"x":{"field":"x","type":"quantitative","axis":null},"y":{"field":"y","type":"quantitative","axis":null},"text":{"field":"t"}}},
{"data":{"name":"lab310"},"mark":{"type":"text","fontSize":17,"align":"center","baseline":"middle","angle":310,"fill":"black"},
 "encoding":{"x":{"field":"x","type":"quantitative","axis":null},"y":{"field":"y","type":"quantitative","axis":null},"text":{"field":"t"}}},
{"data":{"name":"lab290"},"mark":{"type":"text","fontSize":17,"align":"center","baseline":"middle","angle":290,"fill":"black"},
 "encoding":{"x":{"field":"x","type":"quantitative","axis":null},"y":{"field":"y","type":"quantitative","axis":null},"text":{"field":"t"}}},
{"data":{"name":"lab335"},"mark":{"type":"text","fontSize":17,"align":"center","baseline":"middle","angle":335,"fill":"black"},
 "encoding":{"x":{"field":"x","type":"quantitative","axis":null},"y":{"field":"y","type":"quantitative","axis":null},"text":{"field":"t"}}},
{"data":{"name":"lab30"},"mark":{"type":"text","fontSize":17,"align":"center","baseline":"middle","angle":30,"fill":"black"},
 "encoding":{"x":{"field":"x","type":"quantitative","axis":null},"y":{"field":"y","type":"quantitative","axis":null},"text":{"field":"t"}}},
{"data":{"name":"notes"},"mark":{"type":"text","fontSize":21,"align":"left","baseline":"alphabetic","fill":"black"},
 "encoding":{"x":{"field":"x","type":"quantitative","axis":null},"y":{"field":"y","type":"quantitative","axis":null},"text":{"field":"t"}}},
{"data":{"name":"top"},"mark":{"type":"text","fontSize":18,"font":"Liberation Serif","align":"center","baseline":"alphabetic","fill":"black"},
 "encoding":{"x":{"field":"x","type":"quantitative","axis":null},"y":{"field":"y","type":"quantitative","axis":null},"text":{"field":"t"}}}
],
"resolve":{"axis":{"x":"independent","y":"independent"}}
}
